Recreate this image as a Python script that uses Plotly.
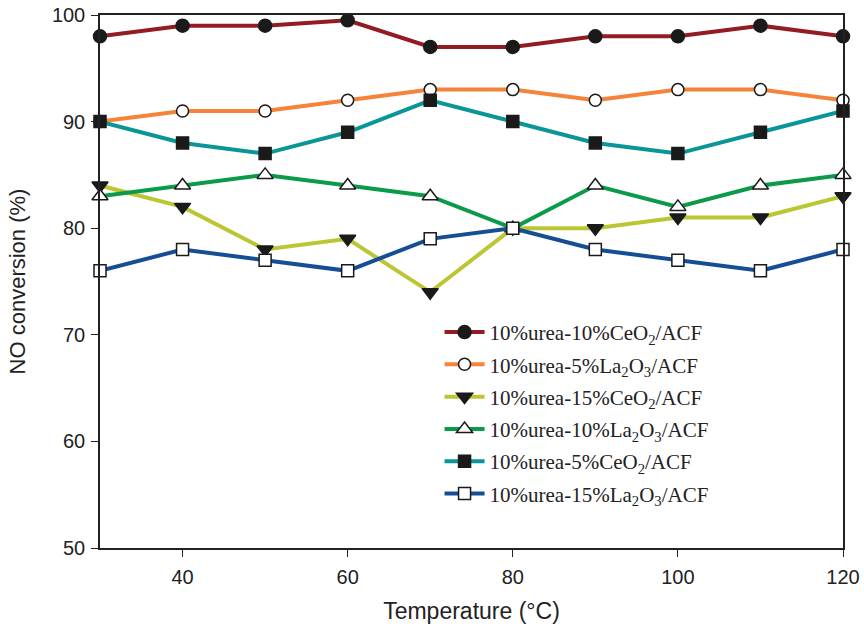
import plotly.graph_objects as go

temperature = [30, 40, 50, 60, 70, 80, 90, 100, 110, 120]

ceo2_10 = [98, 99, 99, 99.5, 97, 97, 98, 98, 99, 98]
la2o3_5 = [90, 91, 91, 92, 93, 93, 92, 93, 93, 92]
ceo2_15 = [84, 82, 78, 79, 74, 80, 80, 81, 81, 83]
la2o3_10 = [83, 84, 85, 84, 83, 80, 84, 82, 84, 85]
ceo2_5 = [90, 88, 87, 89, 92, 90, 88, 87, 89, 91]
la2o3_15 = [76, 78, 77, 76, 79, 80, 78, 77, 76, 78]

names = [
    "10%urea-10%CeO<sub>2</sub>/ACF",
    "10%urea-5%La<sub>2</sub>O<sub>3</sub>/ACF",
    "10%urea-15%CeO<sub>2</sub>/ACF",
    "10%urea-10%La<sub>2</sub>O<sub>3</sub>/ACF",
    "10%urea-5%CeO<sub>2</sub>/ACF",
    "10%urea-15%La<sub>2</sub>O<sub>3</sub>/ACF",
]
series = [ceo2_10, la2o3_5, ceo2_15, la2o3_10, ceo2_5, la2o3_15]
line_colors = ["#931c22", "#f5843a", "#bcc634", "#0b9a4a", "#0a9597", "#154e94"]
symbols = ["circle", "circle", "triangle-down", "triangle-up", "square", "square"]
fills = ["#1a1a1a", "white", "#1a1a1a", "white", "#1a1a1a", "white"]
sizes = [13, 12, 14, 14, 12, 12]

fig = go.Figure()
for i, (nm, ys) in enumerate(zip(names, series)):
    fig.add_trace(go.Scatter(
        x=temperature, y=ys, name=nm, mode="lines+markers",
        legendgroup=f"g{i}",
        line=dict(color=line_colors[i], width=4),
        marker=dict(symbol=symbols[i], size=sizes[i], color=fills[i],
                    line=dict(color="#1a1a1a", width=1.5)),
        cliponaxis=False,
    ))

axis_common = dict(
    showline=True, linecolor="#222", linewidth=1.5, mirror=True,
    ticks="outside", ticklen=7, tickwidth=1.2, tickcolor="#222",
    showgrid=False, zeroline=False, ticklabeloverflow="allow",
    automargin=False,
    tickfont=dict(family="Liberation Sans, Arial", size=20, color="#222"),
)
title_font = dict(family="Liberation Sans, Arial", size=22, color="#222")

fig.update_layout(
    width=864, height=632,
    margin=dict(l=100, r=21, t=15, b=84),
    paper_bgcolor="white", plot_bgcolor="white",
    hovermode=False,
    xaxis=dict(range=[30, 120], tickvals=[40, 60, 80, 100, 120],
               ticklabelstandoff=3,
               title=dict(text="Temperature (°C)", font=dict(family="Liberation Sans, Arial", size=23, color="#222"), standoff=16),
               **axis_common),
    yaxis=dict(range=[50, 100], tickvals=[50, 60, 70, 80, 90, 100],
               ticklabelstandoff=2,
               title=dict(text="NO conversion (%)", font=title_font, standoff=20),
               **axis_common),
    legend=dict(x=0.457, y=0.443, xanchor="left", yanchor="top",
                font=dict(family="Liberation Serif, Times New Roman", size=21, color="#222"),
                bgcolor="rgba(0,0,0,0)", tracegroupgap=2, itemwidth=40),
    showlegend=True,
)

fig.write_html("out.html", config={"displayModeBar": False},
               post_script="document.body.style.margin='0px';")
